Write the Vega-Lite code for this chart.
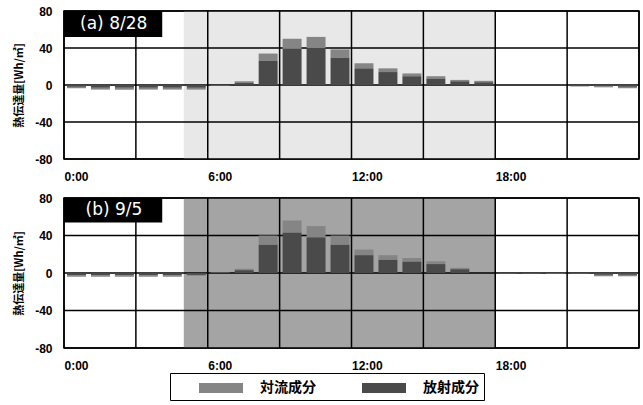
{
  "$schema": "https://vega.github.io/schema/vega-lite/v6.json",
  "padding": {"left": 12, "top": 4, "right": 2, "bottom": 2},
  "background": "white",
  "bounds": "flush",
  "spacing": 39,
  "config": {
    "view": {"stroke": "black", "strokeWidth": 1.5},
    "axisX": {"values": [0, 3, 6, 9, 12, 15, 18, 21, 24], "labelExpr": "datum.value % 6 == 0 && datum.value < 24 ? datum.value + ':00' : ''",
              "labelAlign": "left", "ticks": false, "domain": false, "grid": false, "labelPadding": 12, "labelColor": "black",
              "labelFont": "Liberation Sans", "labelFontWeight": "bold", "labelFontSize": 12, "labelFlush": false, "labelOverlap": false},
    "axisY": {"labelExpr": "'' + datum.value", "ticks": false, "tickSize": 0, "domain": false, "grid": false,
              "labelPadding": 12, "labelColor": "black", "labelOverlap": false,
              "labelFont": "Liberation Sans", "labelFontWeight": "bold", "labelFontSize": 12,
              "titleFont": "Noto Sans CJK JP", "titleFontWeight": "bold", "titleFontSize": 11, "titleColor": "black", "titlePadding": 10}
  },
  "datasets": {
    "bars": [
      {"p":"a","h":0,"h1":1,"c":"対流成分","v":-1.5},{"p":"a","h":0,"h1":1,"c":"放射成分","v":-2},
      {"p":"a","h":1,"h1":2,"c":"対流成分","v":-2},{"p":"a","h":1,"h1":2,"c":"放射成分","v":-3},
      {"p":"a","h":2,"h1":3,"c":"対流成分","v":-2},{"p":"a","h":2,"h1":3,"c":"放射成分","v":-3},
      {"p":"a","h":3,"h1":4,"c":"対流成分","v":-2},{"p":"a","h":3,"h1":4,"c":"放射成分","v":-3},
      {"p":"a","h":4,"h1":5,"c":"対流成分","v":-2},{"p":"a","h":4,"h1":5,"c":"放射成分","v":-3},
      {"p":"a","h":5,"h1":6,"c":"対流成分","v":-2},{"p":"a","h":5,"h1":6,"c":"放射成分","v":-3},
      {"p":"a","h":6,"h1":7,"c":"対流成分","v":-0.5},{"p":"a","h":6,"h1":7,"c":"放射成分","v":0},
      {"p":"a","h":7,"h1":8,"c":"対流成分","v":1.5},{"p":"a","h":7,"h1":8,"c":"放射成分","v":2.5},
      {"p":"a","h":8,"h1":9,"c":"対流成分","v":8},{"p":"a","h":8,"h1":9,"c":"放射成分","v":26},
      {"p":"a","h":9,"h1":10,"c":"対流成分","v":11},{"p":"a","h":9,"h1":10,"c":"放射成分","v":39},
      {"p":"a","h":10,"h1":11,"c":"対流成分","v":12},{"p":"a","h":10,"h1":11,"c":"放射成分","v":40},
      {"p":"a","h":11,"h1":12,"c":"対流成分","v":9},{"p":"a","h":11,"h1":12,"c":"放射成分","v":29.5},
      {"p":"a","h":12,"h1":13,"c":"対流成分","v":5.5},{"p":"a","h":12,"h1":13,"c":"放射成分","v":18},
      {"p":"a","h":13,"h1":14,"c":"対流成分","v":4},{"p":"a","h":13,"h1":14,"c":"放射成分","v":14},
      {"p":"a","h":14,"h1":15,"c":"対流成分","v":3},{"p":"a","h":14,"h1":15,"c":"放射成分","v":9.5},
      {"p":"a","h":15,"h1":16,"c":"対流成分","v":2.5},{"p":"a","h":15,"h1":16,"c":"放射成分","v":7},
      {"p":"a","h":16,"h1":17,"c":"対流成分","v":1.5},{"p":"a","h":16,"h1":17,"c":"放射成分","v":4},
      {"p":"a","h":17,"h1":18,"c":"対流成分","v":1.5},{"p":"a","h":17,"h1":18,"c":"放射成分","v":3},
      {"p":"a","h":18,"h1":19,"c":"対流成分","v":0},{"p":"a","h":18,"h1":19,"c":"放射成分","v":0},
      {"p":"a","h":19,"h1":20,"c":"対流成分","v":0},{"p":"a","h":19,"h1":20,"c":"放射成分","v":0},
      {"p":"a","h":20,"h1":21,"c":"対流成分","v":0},{"p":"a","h":20,"h1":21,"c":"放射成分","v":0},
      {"p":"a","h":21,"h1":22,"c":"対流成分","v":-0.5},{"p":"a","h":21,"h1":22,"c":"放射成分","v":-1},
      {"p":"a","h":22,"h1":23,"c":"対流成分","v":-1},{"p":"a","h":22,"h1":23,"c":"放射成分","v":-1.5},
      {"p":"a","h":23,"h1":24,"c":"対流成分","v":-1.5},{"p":"a","h":23,"h1":24,"c":"放射成分","v":-2},
      {"p":"b","h":0,"h1":1,"c":"対流成分","v":-1.5},{"p":"b","h":0,"h1":1,"c":"放射成分","v":-2.5},
      {"p":"b","h":1,"h1":2,"c":"対流成分","v":-1.5},{"p":"b","h":1,"h1":2,"c":"放射成分","v":-2.5},
      {"p":"b","h":2,"h1":3,"c":"対流成分","v":-1.5},{"p":"b","h":2,"h1":3,"c":"放射成分","v":-2.5},
      {"p":"b","h":3,"h1":4,"c":"対流成分","v":-1.5},{"p":"b","h":3,"h1":4,"c":"放射成分","v":-2.5},
      {"p":"b","h":4,"h1":5,"c":"対流成分","v":-1.5},{"p":"b","h":4,"h1":5,"c":"放射成分","v":-2.5},
      {"p":"b","h":5,"h1":6,"c":"対流成分","v":-1},{"p":"b","h":5,"h1":6,"c":"放射成分","v":-2},
      {"p":"b","h":6,"h1":7,"c":"対流成分","v":0.5},{"p":"b","h":6,"h1":7,"c":"放射成分","v":0},
      {"p":"b","h":7,"h1":8,"c":"対流成分","v":1.5},{"p":"b","h":7,"h1":8,"c":"放射成分","v":3},
      {"p":"b","h":8,"h1":9,"c":"対流成分","v":10},{"p":"b","h":8,"h1":9,"c":"放射成分","v":30},
      {"p":"b","h":9,"h1":10,"c":"対流成分","v":13},{"p":"b","h":9,"h1":10,"c":"放射成分","v":43},
      {"p":"b","h":10,"h1":11,"c":"対流成分","v":12},{"p":"b","h":10,"h1":11,"c":"放射成分","v":38},
      {"p":"b","h":11,"h1":12,"c":"対流成分","v":10},{"p":"b","h":11,"h1":12,"c":"放射成分","v":30},
      {"p":"b","h":12,"h1":13,"c":"対流成分","v":6},{"p":"b","h":12,"h1":13,"c":"放射成分","v":19},
      {"p":"b","h":13,"h1":14,"c":"対流成分","v":5},{"p":"b","h":13,"h1":14,"c":"放射成分","v":14},
      {"p":"b","h":14,"h1":15,"c":"対流成分","v":4},{"p":"b","h":14,"h1":15,"c":"放射成分","v":12},
      {"p":"b","h":15,"h1":16,"c":"対流成分","v":3},{"p":"b","h":15,"h1":16,"c":"放射成分","v":9.5},
      {"p":"b","h":16,"h1":17,"c":"対流成分","v":1.5},{"p":"b","h":16,"h1":17,"c":"放射成分","v":4},
      {"p":"b","h":17,"h1":18,"c":"対流成分","v":0},{"p":"b","h":17,"h1":18,"c":"放射成分","v":0},
      {"p":"b","h":18,"h1":19,"c":"対流成分","v":-0.5},{"p":"b","h":18,"h1":19,"c":"放射成分","v":-0.5},
      {"p":"b","h":19,"h1":20,"c":"対流成分","v":-0.5},{"p":"b","h":19,"h1":20,"c":"放射成分","v":-0.5},
      {"p":"b","h":20,"h1":21,"c":"対流成分","v":-0.5},{"p":"b","h":20,"h1":21,"c":"放射成分","v":0},
      {"p":"b","h":21,"h1":22,"c":"対流成分","v":-0.5},{"p":"b","h":21,"h1":22,"c":"放射成分","v":-0.5},
      {"p":"b","h":22,"h1":23,"c":"対流成分","v":-1.5},{"p":"b","h":22,"h1":23,"c":"放射成分","v":-2},
      {"p":"b","h":23,"h1":24,"c":"対流成分","v":-1.5},{"p":"b","h":23,"h1":24,"c":"放射成分","v":-2}
    ],
    "gx": [{"h":0},{"h":3},{"h":6},{"h":9},{"h":12},{"h":15},{"h":18},{"h":21},{"h":24}],
    "gy": [{"v":-80},{"v":-40},{"v":0},{"v":40},{"v":80}]
  },
  "vconcat": [
    {
      "width": 575, "height": 148,
      "layer": [
        {"data": {"values": [{}]}, "mark": {"type": "rect", "fill": "#e8e8e8"},
         "encoding": {
           "x": {"datum": 5, "type": "quantitative", "title": null, "scale": {"domain": [0, 24], "nice": false, "zero": false}},
           "x2": {"datum": 18},
           "y": {"datum": -80, "type": "quantitative", "title": "熱伝達量[Wh/㎡]", "scale": {"domain": [-80, 80], "nice": false}, "axis": {"values": [-80, -40, 0, 40, 80]}},
           "y2": {"datum": 80}}},
        {"data": {"name": "gx"}, "mark": {"type": "rule", "color": "black", "strokeWidth": 1.5},
         "encoding": {"x": {"field": "h", "type": "quantitative", "title": null}}},
        {"data": {"name": "gy"}, "mark": {"type": "rule", "color": "black", "strokeWidth": 1.5},
         "encoding": {"y": {"field": "v", "type": "quantitative", "title": "熱伝達量[Wh/㎡]", "axis": {"values": [-80, -40, 0, 40, 80]}}}},
        {"data": {"name": "bars"}, "transform": [{"filter": "datum.p == 'a'"}],
         "mark": {"type": "bar", "binSpacing": 5},
         "encoding": {
           "x": {"field": "h", "bin": "binned", "type": "quantitative", "title": null},
           "x2": {"field": "h1"},
           "y": {"field": "v", "type": "quantitative", "stack": "zero", "title": "熱伝達量[Wh/㎡]", "axis": {"values": [-80, -40, 0, 40, 80]}},
           "color": {"field": "c", "type": "nominal", "scale": {"domain": ["対流成分", "放射成分"], "range": ["#858585", "#4a4a4a"]},
                     "legend": {"title": null, "orient": "none", "legendX": 106, "legendY": 362, "direction": "horizontal",
                                "symbolType": "M-2.2,-0.5H2.2V0.5H-2.2Z", "symbolSize": 400, "symbolStrokeWidth": 0,
                                "symbolOffset": 36, "labelExpr": "datum.label + '　'",
                                "labelFont": "Noto Sans CJK JP", "labelFontWeight": "bold", "labelFontSize": 14, "labelColor": "black",
                                "labelOffset": 29, "columnPadding": 22, "strokeColor": "black", "padding": 5}}
         }},
        {"data": {"values": [{}]}, "mark": {"type": "rect", "fill": "black"},
         "encoding": {"x": {"datum": 0, "type": "quantitative", "title": null}, "x2": {"datum": 4.1},
                      "y": {"datum": 52, "type": "quantitative", "title": "熱伝達量[Wh/㎡]", "axis": {"values": [-80, -40, 0, 40, 80]}}, "y2": {"datum": 80}}},
        {"data": {"values": [{}]}, "mark": {"type": "text", "color": "white", "align": "left", "baseline": "middle", "fontSize": 17, "font": "DejaVu Sans"},
         "encoding": {"x": {"datum": 0.67, "type": "quantitative", "title": null}, "y": {"datum": 66, "type": "quantitative", "title": "熱伝達量[Wh/㎡]", "axis": {"values": [-80, -40, 0, 40, 80]}},
                      "text": {"value": "(a) 8/28"}}}
      ]
    },
    {
      "width": 575, "height": 150,
      "layer": [
        {"data": {"values": [{}]}, "mark": {"type": "rect", "fill": "#a4a4a4"},
         "encoding": {
           "x": {"datum": 5, "type": "quantitative", "title": null, "scale": {"domain": [0, 24], "nice": false, "zero": false}},
           "x2": {"datum": 18},
           "y": {"datum": -80, "type": "quantitative", "title": "熱伝達量[Wh/㎡]", "scale": {"domain": [-80, 80], "nice": false}, "axis": {"values": [-80, -40, 0, 40, 80]}},
           "y2": {"datum": 80}}},
        {"data": {"name": "gx"}, "mark": {"type": "rule", "color": "black", "strokeWidth": 1.5},
         "encoding": {"x": {"field": "h", "type": "quantitative", "title": null}}},
        {"data": {"name": "gy"}, "mark": {"type": "rule", "color": "black", "strokeWidth": 1.5},
         "encoding": {"y": {"field": "v", "type": "quantitative", "title": "熱伝達量[Wh/㎡]", "axis": {"values": [-80, -40, 0, 40, 80]}}}},
        {"data": {"name": "bars"}, "transform": [{"filter": "datum.p == 'b'"}],
         "mark": {"type": "bar", "binSpacing": 5},
         "encoding": {
           "x": {"field": "h", "bin": "binned", "type": "quantitative", "title": null},
           "x2": {"field": "h1"},
           "y": {"field": "v", "type": "quantitative", "stack": "zero", "title": "熱伝達量[Wh/㎡]", "axis": {"values": [-80, -40, 0, 40, 80]}},
           "color": {"field": "c", "type": "nominal", "scale": {"domain": ["対流成分", "放射成分"], "range": ["#858585", "#4a4a4a"]}}
         }},
        {"data": {"values": [{}]}, "mark": {"type": "rect", "fill": "black"},
         "encoding": {"x": {"datum": 0, "type": "quantitative", "title": null}, "x2": {"datum": 4.1},
                      "y": {"datum": 54, "type": "quantitative", "title": "熱伝達量[Wh/㎡]", "axis": {"values": [-80, -40, 0, 40, 80]}}, "y2": {"datum": 80}}},
        {"data": {"values": [{}]}, "mark": {"type": "text", "color": "white", "align": "left", "baseline": "middle", "fontSize": 17, "font": "DejaVu Sans"},
         "encoding": {"x": {"datum": 0.9, "type": "quantitative", "title": null}, "y": {"datum": 67, "type": "quantitative", "title": "熱伝達量[Wh/㎡]", "axis": {"values": [-80, -40, 0, 40, 80]}},
                      "text": {"value": "(b) 9/5"}}}
      ]
    }
  ]
}
